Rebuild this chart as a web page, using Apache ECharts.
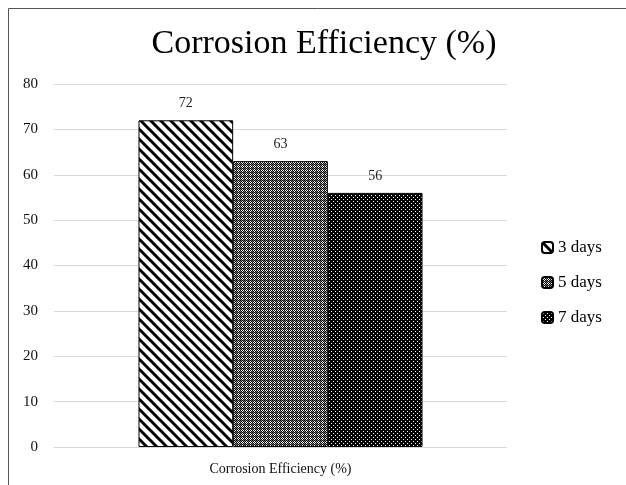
<!DOCTYPE html>
<html><head><meta charset="utf-8">
<script src="https://cdn.jsdelivr.net/npm/echarts@6/dist/echarts.min.js"></script>
<style>html,body{margin:0;padding:0;background:#fff}#c{width:626px;height:485px}</style>
</head><body><div id="c"></div>
<script>
const title = "Corrosion Efficiency (%)";
const categories = ["Corrosion Efficiency (%)"];
const seriesNames = ["3 days", "5 days", "7 days"];
const values3 = [72];
const values5 = [63];
const values7 = [56];
const yTicks = { min: 0, max: 80, interval: 10 };

function tile(w, h, draw) {
  const c = document.createElement('canvas');
  c.width = w; c.height = h;
  const g = c.getContext('2d');
  draw(g, w, h);
  return c;
}
const pat3 = tile(10, 10, (g, w, h) => {
  g.fillStyle = '#fff'; g.fillRect(0, 0, w, h);
  g.strokeStyle = '#000'; g.lineWidth = 3;
  for (const k of [-10, 0, 10]) { g.beginPath(); g.moveTo(k - 2, -2); g.lineTo(k + 12, 12); g.stroke(); }
});
const pat5 = tile(4, 4, (g, w, h) => {
  for (let y = 0; y < 4; y++) for (let x = 0; x < 4; x++) {
    let c = ((x + y) % 2 === 0) ? '#000' : '#fff';
    if (x === 0 || y === 0) c = ((x + y) % 2 === 0) ? '#000' : '#777';
    g.fillStyle = c; g.fillRect(x, y, 1, 1);
  }
});
const pat7 = tile(4, 4, (g, w, h) => {
  g.fillStyle = '#000'; g.fillRect(0, 0, w, h);
  g.fillStyle = '#fff'; g.fillRect(1, 1, 1, 1); g.fillRect(3, 3, 1, 1);
});
const patterns = [pat3, pat5, pat7];
const seriesValues = [values3, values5, values7];

const serif = '"Liberation Serif", "DejaVu Serif", serif';
const chart = echarts.init(document.getElementById('c'));
chart.setOption({
  animation: false,
  backgroundColor: '#fff',
  title: { text: title, left: 319, top: 22, textAlign: 'center',
    textStyle: { fontFamily: serif, fontSize: 34, fontWeight: 'normal', color: '#000' } },
  graphic: [{ type: 'rect', shape: { x: 8.5, y: 8.5, width: 700, height: 600 },
    style: { fill: 'none', stroke: '#555', lineWidth: 1 }, silent: true }],
  legend: { orient: 'vertical', left: 536, top: 234, itemWidth: 11, itemHeight: 11, itemGap: 18,
    data: seriesNames,
    textStyle: { fontFamily: serif, fontSize: 17, lineHeight: 17, color: '#000' } },
  grid: { left: 54, right: 119, top: 84, bottom: 38 },
  xAxis: { type: 'category', data: categories,
    axisLine: { lineStyle: { color: '#d9d9d9' } }, axisTick: { show: false },
    axisLabel: { margin: 15, fontFamily: serif, fontSize: 14, color: '#111' } },
  yAxis: { type: 'value', min: yTicks.min, max: yTicks.max, interval: yTicks.interval,
    axisLine: { show: false }, axisTick: { show: false },
    splitLine: { lineStyle: { color: '#d9d9d9' } },
    axisLabel: { margin: 16, fontFamily: serif, fontSize: 15, color: '#111' } },
  series: seriesNames.map((n, i) => ({
    name: n, type: 'bar', data: seriesValues[i], barGap: '0%', barCategoryGap: '37.3%',
    itemStyle: { color: { image: patterns[i], repeat: 'repeat' }, borderColor: '#000', borderWidth: 1 },
    label: { show: true, position: 'top', distance: 10, fontFamily: serif, fontSize: 14, color: '#222' }
  }))
});
</script></body></html>
